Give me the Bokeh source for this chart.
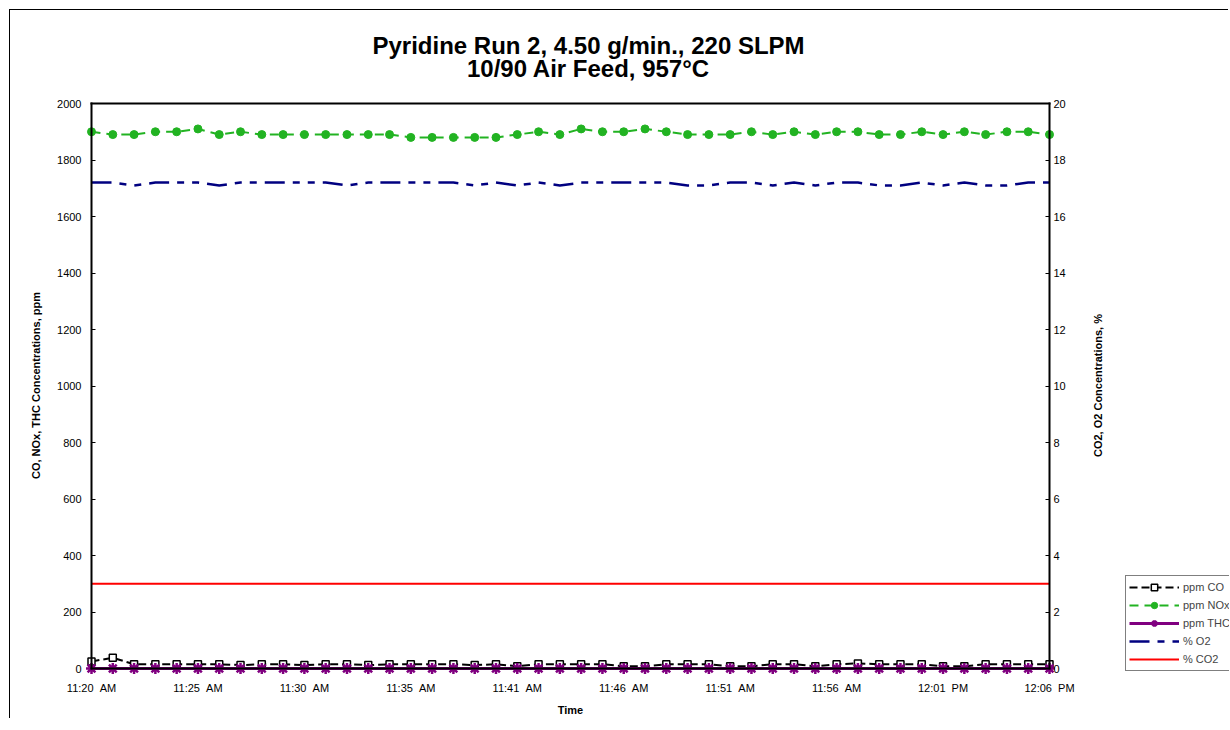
import math
from bokeh.plotting import figure
from bokeh.models import (Range1d, LinearAxis, FixedTicker, Label, Legend, LegendItem)
from bokeh.embed import file_html
from bokeh.resources import INLINE

FONT = "Liberation Sans"

# ---- data -------------------------------------------------------------
tick_index = [0, 5, 10, 15, 20, 25, 30, 35, 40, 45]
tick_labels = ["11:20\u00a0\u00a0AM", "11:25\u00a0\u00a0AM", "11:30\u00a0\u00a0AM",
               "11:35\u00a0\u00a0AM", "11:41\u00a0\u00a0AM", "11:46\u00a0\u00a0AM",
               "11:51\u00a0\u00a0AM", "11:56\u00a0\u00a0AM", "12:01\u00a0\u00a0PM",
               "12:06\u00a0\u00a0PM"]
ppm_ticks = [0, 200, 400, 600, 800, 1000, 1200, 1400, 1600, 1800, 2000]
pct_ticks = [0, 2, 4, 6, 8, 10, 12, 14, 16, 18, 20]

co_ppm = [25, 38, 15, 15, 15, 15, 15, 12, 15, 15, 12, 15, 15, 12, 15, 15,
          15, 15, 12, 15, 8, 15, 15, 15, 15, 8, 8, 15, 15, 15, 8, 8,
          15, 15, 8, 15, 18, 15, 15, 15, 8, 8, 15, 15, 15, 15]

nox_ppm = [1900, 1890, 1890, 1900, 1900, 1910, 1890, 1900, 1890, 1890, 1890, 1890,
           1890, 1890, 1890, 1880, 1880, 1880, 1880, 1880, 1890, 1900, 1890, 1910,
           1900, 1900, 1910, 1900, 1890, 1890, 1890, 1900, 1890, 1900, 1890, 1900,
           1900, 1890, 1890, 1900, 1890, 1900, 1890, 1900, 1900, 1890]

thc_ppm = [0, 0, 0, 0, 0, 0, 0, 0, 0, 0, 0, 0, 0, 0, 0, 0, 0, 0, 0, 0, 0, 0, 0,
           0, 0, 0, 0, 0, 0, 0, 0, 0, 0, 0, 0, 0, 0, 0, 0, 0, 0, 0, 0, 0, 0, 0]

o2_pct = [17.2, 17.2, 17.1, 17.2, 17.2, 17.2, 17.1, 17.2, 17.2, 17.2, 17.2, 17.2,
          17.1, 17.2, 17.2, 17.2, 17.2, 17.2, 17.1, 17.2, 17.1, 17.2, 17.1, 17.2,
          17.2, 17.2, 17.2, 17.2, 17.1, 17.1, 17.2, 17.2, 17.1, 17.2, 17.1, 17.2,
          17.2, 17.1, 17.1, 17.2, 17.1, 17.2, 17.1, 17.1, 17.2, 17.2]

co2_pct = [3.0, 3.0, 3.0, 3.0, 3.0, 3.0, 3.0, 3.0, 3.0, 3.0, 3.0, 3.0, 3.0, 3.0,
           3.0, 3.0, 3.0, 3.0, 3.0, 3.0, 3.0, 3.0, 3.0, 3.0, 3.0, 3.0, 3.0, 3.0,
           3.0, 3.0, 3.0, 3.0, 3.0, 3.0, 3.0, 3.0, 3.0, 3.0, 3.0, 3.0, 3.0, 3.0,
           3.0, 3.0, 3.0, 3.0]

sample_index = list(range(len(nox_ppm)))

# ---- layout (page pixels) ---------------------------------------------
CANVAS_X0, CANVAS_Y0 = 10, 10
W, H = 1219, 709
BOX_L, BOX_R, BOX_T, BOX_B = 91, 1049, 103, 668

x_lo, x_hi = sample_index[0], sample_index[-1]
ppm_lo, ppm_hi = ppm_ticks[0], ppm_ticks[-1]
pct_lo, pct_hi = pct_ticks[0], pct_ticks[-1]

xpp = (x_hi - x_lo) / (BOX_R - BOX_L)
ypp = (ppm_hi - ppm_lo) / (BOX_B - BOX_T)
ppp = (pct_hi - pct_lo) / (BOX_B - BOX_T)
x_range = Range1d(x_lo - (BOX_L - CANVAS_X0) * xpp,
                  x_hi + (CANVAS_X0 + W - BOX_R) * xpp)
y_range = Range1d(ppm_lo - (CANVAS_Y0 + H - BOX_B) * ypp,
                  ppm_hi + (BOX_T - CANVAS_Y0) * ypp)
pct_range = Range1d(pct_lo - (CANVAS_Y0 + H - BOX_B) * ppp,
                    pct_hi + (BOX_T - CANVAS_Y0) * ppp)

def sx(page_x):
    return page_x - CANVAS_X0

def sy(page_y):
    return CANVAS_Y0 + H - page_y

# ---- figure -----------------------------------------------------------
p = figure(width=W, height=H, x_range=x_range, y_range=y_range,
           output_backend="svg", toolbar_location=None,
           min_border_left=0, min_border_right=0,
           min_border_top=0, min_border_bottom=0,
           background_fill_color="white", border_fill_color="white",
           outline_line_color=None)
p.margin = (9, 0, 0, 9)
p.styles = {"border-top": "1px solid #000", "border-left": "1px solid #000"}
p.extra_y_ranges = {"pct": pct_range}
p.grid.visible = False

def style_axis(ax):
    ax.major_label_text_font = FONT
    ax.major_label_text_font_size = "11px"
    ax.major_label_text_color = "black"
    ax.axis_line_color = "black"
    ax.axis_line_width = 2
    ax.axis_line_cap = "square"
    ax.major_tick_line_color = "black"
    ax.major_tick_line_width = 1
    ax.minor_tick_line_color = None

# left axis (ppm)
ly = p.yaxis[0]
ly.ticker = FixedTicker(ticks=ppm_ticks)
ly.fixed_location = x_lo
ly.bounds = (ppm_lo, ppm_hi)
style_axis(ly)
ly.major_tick_in = 4
ly.major_tick_out = 0
ly.major_label_standoff = 10

# right axis (%)
ry = LinearAxis(y_range_name="pct", ticker=FixedTicker(ticks=pct_ticks))
ry.fixed_location = x_hi
ry.bounds = (pct_lo, pct_hi)
style_axis(ry)
ry.major_tick_in = 4
ry.major_tick_out = 0
ry.major_label_standoff = 4
p.add_layout(ry, "right")

# bottom axis (time)
xa = p.xaxis[0]
xa.ticker = FixedTicker(ticks=tick_index)
xa.major_label_overrides = {t: l for t, l in zip(tick_index, tick_labels)}
xa.fixed_location = ppm_lo
xa.bounds = (x_lo, x_hi)
style_axis(xa)
xa.major_tick_in = 0
xa.major_tick_out = 0
xa.major_label_standoff = 13

# top border of the plot area
ta = LinearAxis(ticker=FixedTicker(ticks=[]))
ta.fixed_location = ppm_hi
ta.bounds = (x_lo, x_hi)
style_axis(ta)
ta.major_label_text_font_size = "0px"
p.add_layout(ta, "above")

# ---- series -----------------------------------------------------------
co2_line = p.line(sample_index, co2_pct, y_range_name="pct",
                  line_color="#FF0000", line_width=2)
o2_line = p.line(sample_index, o2_pct, y_range_name="pct",
                 line_color="#000080", line_width=2.5, line_dash="20 8 7 8 7 8")
nox_line = p.line(sample_index, nox_ppm, line_color="#22B322", line_width=2,
                  line_dash="9 6")
nox_pts = p.scatter(sample_index, nox_ppm, marker="circle", size=8,
                    fill_color="#22B322", line_color="#22B322", line_width=1)
co_line = p.line(sample_index, co_ppm, line_color="black", line_width=2,
                 line_dash="8 4")
co_pts = p.scatter(sample_index, co_ppm, marker="square", size=7,
                   fill_color="white", line_color="black", line_width=1.5)
thc_line = p.line(sample_index, thc_ppm, line_color="#800080", line_width=3)
thc_pts = p.scatter(sample_index, thc_ppm, marker="asterisk", size=11,
                    line_color="#800080", line_width=2.5)

legend = Legend(items=[
    LegendItem(label="ppm CO", renderers=[co_line, co_pts]),
    LegendItem(label="ppm NOx", renderers=[nox_line, nox_pts]),
    LegendItem(label="ppm THC", renderers=[thc_line, thc_pts]),
    LegendItem(label="% O2", renderers=[o2_line]),
    LegendItem(label="% CO2", renderers=[co2_line]),
], location=(sx(1125), sy(671)))
legend.glyph_width = 50
legend.glyph_height = 16
legend.label_height = 16
legend.spacing = 2
legend.padding = 3
legend.margin = 0
legend.label_standoff = 4
legend.label_text_font = FONT
legend.label_text_font_size = "11px"
legend.border_line_color = "black"
legend.border_line_width = 1
legend.background_fill_color = "white"
legend.background_fill_alpha = 1
p.add_layout(legend)

# ---- titles and axis titles -------------------------------------------
def lbl(text, page_x, page_y, size, angle=0.0):
    return Label(x=sx(page_x), y=sy(page_y), x_units="screen", y_units="screen",
                 text=text, text_font=FONT, text_font_size=size,
                 text_font_style="bold", text_align="center",
                 text_baseline="middle", angle=angle, text_color="black")

p.add_layout(lbl("Pyridine Run 2, 4.50 g/min., 220 SLPM", 588, 45, "24px"))
p.add_layout(lbl("10/90 Air Feed, 957\u00b0C", 588, 68, "24px"))
p.add_layout(lbl("CO, NOx, THC Concentrations, ppm", 35, 385, "11px", math.pi / 2))
p.add_layout(lbl("CO2, O2 Concentrations, %", 1097, 385, "11px", math.pi / 2))
p.add_layout(lbl("Time", 570, 709, "11px"))

open("out.html", "w").write(file_html(p, INLINE))
